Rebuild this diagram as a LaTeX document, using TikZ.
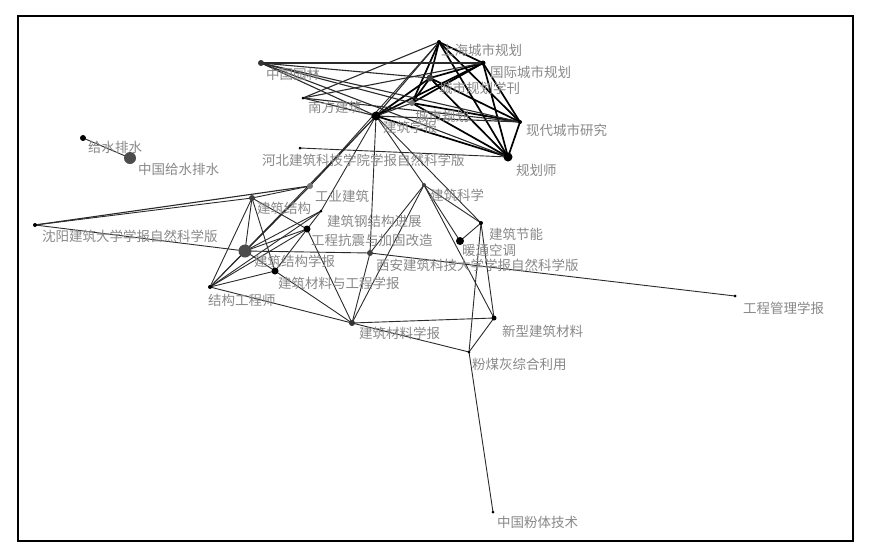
\documentclass[tikz,border=0pt]{standalone}
\usepackage{fontspec}
\newfontfamily\cjk{Noto Sans CJK SC}
\pgfdeclarelayer{bg}
\pgfsetlayers{bg,main}
\definecolor{labgray}{HTML}{888888}
\definecolor{edgegray}{HTML}{2A2A2A}
\begin{document}
\begin{tikzpicture}[x=1pt,y=-1pt,
  dot/.style={circle,fill=#1,inner sep=0pt,draw=none},
  lab/.style={anchor=west,inner sep=0pt,text=labgray,font=\cjk\fontsize{13.5}{14}\selectfont},
  thk/.style={draw=black,line width=1.7pt},
  mid/.style={draw=edgegray,line width=1.1pt},
  thn/.style={draw=edgegray,line width=0.9pt}
]
\useasboundingbox (0,0) rectangle (870,555);
\node[draw=black,line width=2pt,minimum width=835pt,minimum height=525pt,inner sep=0pt] (frame) at (435.25,278.5) {};

% ---- nodes (dots) ----
\node[dot=black,minimum size=4pt] (A) at (439,42) {};
\node[dot=black,minimum size=5pt] (B) at (483,63) {};
\node[dot=black!75,minimum size=7pt] (C) at (430,78) {};
\node[dot=black!55,minimum size=6pt] (D) at (412,103) {};
\node[dot=black!80,minimum size=6pt] (E) at (261,63) {};
\node[dot=black,minimum size=3pt] (F) at (303,98) {};
\node[dot=black,minimum size=9pt] (G) at (376,116) {};
\node[dot=black,minimum size=4pt] (H) at (520,122) {};
\node[dot=black,minimum size=9pt] (I) at (508,157) {};
\node[dot=black,minimum size=3pt] (J) at (300,148) {};
\node[dot=black,minimum size=6pt] (K) at (83,138) {};
\node[dot=black!70,minimum size=12pt] (L) at (130,158) {};
\node[dot=black!55,minimum size=6pt] (M) at (310,186) {};
\node[dot=black!75,minimum size=6pt] (N) at (252,198) {};
\node[dot=black,minimum size=4pt] (SY) at (35,225) {};
\node[dot=black,minimum size=3pt] (P) at (321,211) {};
\node[dot=black,minimum size=7pt] (Q) at (307,229) {};
\node[dot=black!70,minimum size=13pt] (R) at (245,251) {};
\node[dot=black,minimum size=7pt] (S) at (275,271) {};
\node[dot=black,minimum size=4pt] (T) at (210,287) {};
\node[dot=black!75,minimum size=4pt] (U) at (424,185) {};
\node[dot=black,minimum size=4pt] (V) at (481,223) {};
\node[dot=black,minimum size=8pt] (W) at (460,241) {};
\node[dot=black!75,minimum size=6pt] (XA) at (370,253) {};
\node[dot=black,minimum size=3pt] (GL) at (735,296) {};
\node[dot=black,minimum size=5pt] (Z) at (494,318) {};
\node[dot=black!80,minimum size=6pt] (AA) at (352,323) {};
\node[dot=black,minimum size=3pt] (AB) at (469,352) {};
\node[dot=black,minimum size=3pt] (FT) at (493,512) {};

% ---- labels ----
\node[lab] (lA) at (441,50) {上海城市规划};
\node[lab] (lB) at (490,72) {国际城市规划};
\node[lab] (lC) at (439,88) {城市规划学刊};
\node[lab] (lD) at (415,116) {城市规划};
\node[lab] (lE) at (266,74) {中国园林};
\node[lab] (lF) at (308,107) {南方建筑};
\node[lab] (lG) at (383,127) {建筑学报};
\node[lab] (lH) at (526,130) {现代城市研究};
\node[lab] (lI) at (516,170) {规划师};
\node[lab] (lJ) at (262,160) {河北建筑科技学院学报自然科学版};
\node[lab] (lK) at (88,147) {给水排水};
\node[lab] (lL) at (138,169) {中国给水排水};
\node[lab] (lM) at (315,196) {工业建筑};
\node[lab] (lN) at (257,208) {建筑结构};
\node[lab] (lSY) at (42,236) {沈阳建筑大学学报自然科学版};
\node[lab] (lP) at (327,221) {建筑钢结构进展};
\node[lab] (lQ) at (311,240) {工程抗震与加固改造};
\node[lab] (lR) at (254,261) {建筑结构学报};
\node[lab] (lS) at (278,283) {建筑材料与工程学报};
\node[lab] (lT) at (208,300) {结构工程师};
\node[lab] (lU) at (430,195) {建筑科学};
\node[lab] (lV) at (489,234) {建筑节能};
\node[lab] (lW) at (462,250) {暖通空调};
\node[lab] (lXA) at (376,265) {西安建筑科技大学学报自然科学版};
\node[lab] (lGL) at (743,308) {工程管理学报};
\node[lab] (lZ) at (502,331) {新型建筑材料};
\node[lab] (lAA) at (359,333) {建筑材料学报};
\node[lab] (lAB) at (472,364) {粉煤灰综合利用};
\node[lab] (lFT) at (497,522) {中国粉体技术};

% ---- edges ----
\begin{pgfonlayer}{bg}
\foreach \a/\b in {A/B,A/C,A/D,A/H,A/I,B/C,B/D,B/H,B/I,C/D,C/H,C/I,D/H,D/I,H/I,G/I,G/C,G/B}
  \draw[thk] (\a.center) -- (\b.center);
\foreach \a/\b in {E/B,E/C,E/D,E/H,E/I,E/G,F/A,F/B,F/H,F/G,G/A,G/D,G/H,SY/M}
  \draw[mid] (\a.center) -- (\b.center);
\foreach \a/\b in {J/I,K/L,G/M,A/M,G/R,G/P,G/XA,G/U,G/V,
  SY/N,SY/R,N/M,N/T,N/R,N/S,N/Q,M/T,M/R,P/T,P/R,P/S,
  Q/R,Q/T,Q/AA,R/T,R/S,R/XA,S/T,S/AA,T/AA,
  XA/GL,XA/AA,XA/U,U/V,U/W,U/Z,U/AA,V/W,V/Z,V/AB,
  AA/Z,AA/AB,Z/AB,AB/FT}
  \draw[thn] (\a.center) -- (\b.center);
\end{pgfonlayer}
\end{tikzpicture}
\end{document}
